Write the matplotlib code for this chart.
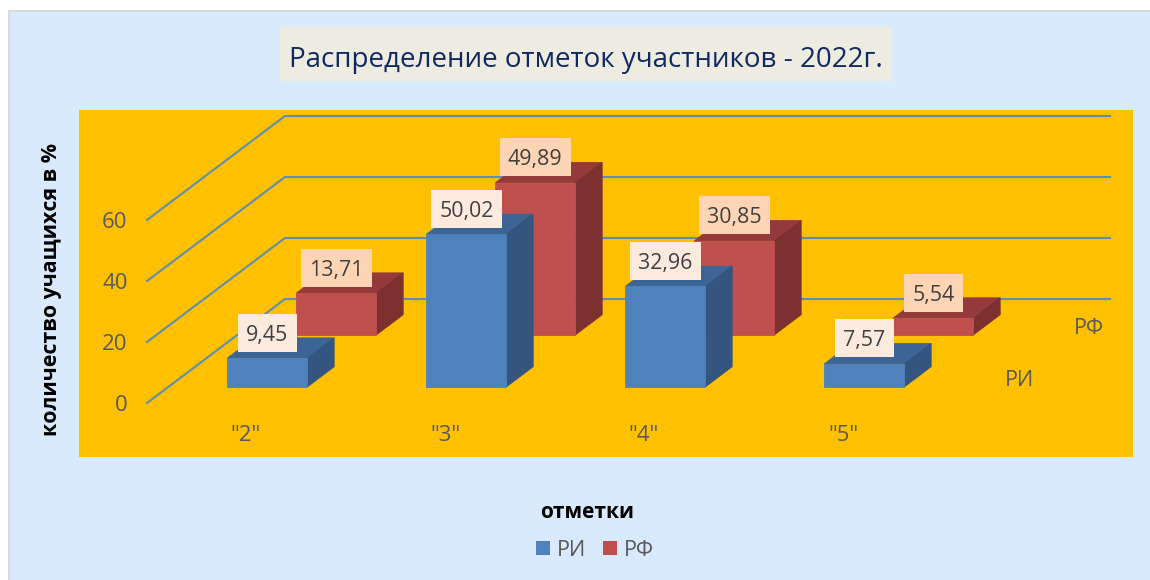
import matplotlib
matplotlib.use('Agg')
import matplotlib.pyplot as plt
from matplotlib.patches import Rectangle

plt.rcParams['font.family'] = ['Open Sans', 'DejaVu Sans']

# data
categories = ['"2"', '"3"', '"4"', '"5"']
ri_values = [9.45, 50.02, 32.96, 7.57]
rf_values = [13.71, 49.89, 30.85, 5.54]
series_names = ['РИ', 'РФ']
y_ticks = [0, 20, 40, 60]
title_text = 'Распределение отметок участников - 2022г.'
x_title = 'отметки'
y_title = 'количество учащихся в %'

W, H = 1150, 580
PX_X = 199.0    # pixels per category
PX_Y = 3.05     # pixels per percent
DEPTH_X = 138 / PX_X
DEPTH_Y = 104 / PX_Y
BAR_W = 80 / PX_X
SERIES_DEPTH = [0.154, 0.654]
BAR_DEPTH = 0.195


def project(x, y, d):
    # fake 3d: move a point back along the depth of the chart
    return x + d * DEPTH_X, y + d * DEPTH_Y


def fig_rect(x0, y0, x1, y1, color, **kw):
    # rectangle given in image pixels, y going down
    return Rectangle((x0 / W, 1 - y1 / H), (x1 - x0) / W, (y1 - y0) / H,
                     transform=fig.transFigure, facecolor=color, **kw)


def draw_bar(ax, x, value, depth, front, top, side, z):
    x0 = x - BAR_W / 2
    x1 = x + BAR_W / 2
    d0 = depth
    d1 = depth + BAR_DEPTH
    faces = [
        ([(x0, value, d0), (x1, value, d0), (x1, value, d1), (x0, value, d1)], top),
        ([(x1, 0, d0), (x1, 0, d1), (x1, value, d1), (x1, value, d0)], side),
        ([(x0, 0, d0), (x1, 0, d0), (x1, value, d0), (x0, value, d0)], front),
    ]
    for pts, color in faces:
        xy = [project(*p) for p in pts]
        ax.fill([p[0] for p in xy], [p[1] for p in xy], facecolor=color,
                edgecolor=color, linewidth=0.6, zorder=z, clip_on=False)


def draw_label(ax, x, value, depth, text, color):
    cx, cy = project(x, value, depth)
    cy += 25.5 / PX_Y
    bw = (59 if len(text) == 4 else 71) / PX_X
    bh = 38 / PX_Y
    ax.add_patch(Rectangle((cx - bw / 2, cy - bh / 2), bw, bh, facecolor=color,
                           edgecolor='none', zorder=20, clip_on=False))
    ax.text(cx, cy, text, ha='center', va='center_baseline', fontsize=15.4,
            color='#404040', zorder=21)


fig = plt.figure(figsize=(W / 100, H / 100), dpi=100, facecolor='white')

# chart area and plot area
fig.add_artist(fig_rect(9, 11, W + 6, H + 6, '#d8eafb', edgecolor='#d9d9d9', linewidth=1.5, zorder=-3))
fig.add_artist(fig_rect(79, 110, 1133, 457, '#ffc000', edgecolor='none', zorder=-2))
fig.add_artist(fig_rect(280, 27, 892, 81, '#eeece1', edgecolor='none', zorder=-2))

ax = fig.add_axes([147 / W, 1 - 403 / H, (1133 - 147) / W, (403 - 110) / H])
ax.patch.set_visible(False)
ax.set_xlim((147 - 246) / PX_X, (1133 - 246) / PX_X)
ax.set_ylim(0, (403 - 110) / PX_Y)
for s in ax.spines.values():
    s.set_visible(False)

# walls
for v in y_ticks:
    x_end = (1110 - 246) / PX_X - DEPTH_X
    xs = [ax.get_xlim()[0], project(ax.get_xlim()[0], v, 1)[0], project(x_end, v, 1)[0]]
    ys = [v, v + DEPTH_Y, v + DEPTH_Y]
    ax.plot(xs, ys, color='#5f8fae', linewidth=1.5, zorder=1, clip_on=False,
            solid_joinstyle='miter')

# RF row is behind the RI row
for i in range(len(categories)):
    draw_bar(ax, i, rf_values[i], SERIES_DEPTH[1], '#c0504d', '#943a3a', '#7c3030', 3 + i)
for i in range(len(categories)):
    draw_bar(ax, i, ri_values[i], SERIES_DEPTH[0], '#4f81bd', '#3c6494', '#34557f', 10 + i)

for i in range(len(categories)):
    draw_label(ax, i, rf_values[i], SERIES_DEPTH[1], f'{rf_values[i]:.2f}'.replace('.', ','), '#fdd5b5')
    draw_label(ax, i, ri_values[i], SERIES_DEPTH[0], f'{ri_values[i]:.2f}'.replace('.', ','), '#fdeadf')

# series names on the depth axis
for name, d in zip(series_names, SERIES_DEPTH):
    tx, ty = project(3.78, 2.1, d)
    ax.text(tx, ty, name, ha='center', va='center', fontsize=15.5, color='#595959')

ax.set_xticks(range(len(categories)))
ax.set_xticklabels(categories)
ax.set_yticks(y_ticks)
ax.tick_params(axis='both', length=0, labelsize=16, labelcolor='#595959')
ax.tick_params(axis='x', pad=15.5)
ax.tick_params(axis='y', pad=14)
for lab in ax.get_yticklabels():
    lab.set_y(lab.get_position()[1])

fig.text(586 / W, 1 - 60 / H, title_text, ha='center', va='center', fontsize=20,
         color='#0f2a63')
fig.text(587 / W, 1 - 512 / H, x_title, ha='center', va='center', fontsize=15,
         fontweight='bold', color='black')
fig.text(52 / W, 1 - 289 / H, y_title, ha='center', va='center', rotation=90, fontsize=15.4,
         fontweight='bold', color='black')

handles = [Rectangle((0, 0), 1, 1, facecolor='#4f81bd'), Rectangle((0, 0), 1, 1, facecolor='#c0504d')]
fig.legend(handles, series_names, loc='center', bbox_to_anchor=(595 / W, 1 - 550 / H), ncol=2,
           frameon=False, fontsize=15.5, labelcolor='#595959', handlelength=0.65, handleheight=0.65,
           handletextpad=0.35, columnspacing=0.75)

fig.savefig('out.png', dpi=100)
